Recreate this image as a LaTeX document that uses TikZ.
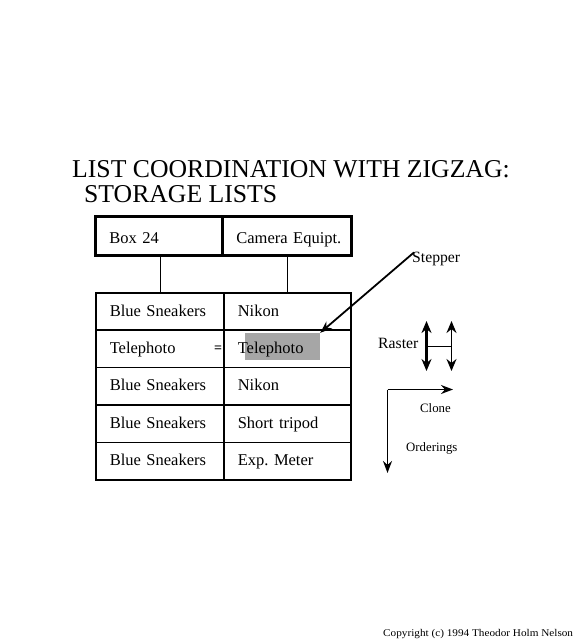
\documentclass[tikz,border=0pt]{standalone}
\usepackage{fontspec}
\setmainfont{Liberation Serif}
\usetikzlibrary{arrows.meta}
\frenchspacing
\begin{document}
\begin{tikzpicture}[x=1pt,y=-1pt,
  titletext/.style={anchor=base west, inner sep=0pt, font=\fontsize{25.7}{28}\selectfont},
  topcell/.style={draw, line width=2.8pt, minimum height=39pt, inner xsep=14pt, inner ysep=0pt,
    align=left, anchor=north west, font=\fontsize{16.5}{18}\selectfont, text height=16pt, text depth=1pt},
  cell/.style={draw, line width=1.6pt, minimum height=37.4pt, inner xsep=14pt, inner ysep=0pt,
    align=left, anchor=north west, font=\fontsize{16.5}{18}\selectfont, text height=12pt, text depth=3pt},
  lbl/.style={anchor=base west, inner sep=0pt, font=\fontsize{15.7}{18}\selectfont},
  smalllbl/.style={anchor=base west, inner sep=0pt, font=\fontsize{12.8}{14}\selectfont},
  conn/.style={line width=1.8pt},
  arr/.style={line width=1.8pt, -{Stealth[length=12pt,width=9pt]}},
  darr/.style={line width=2.4pt, {Stealth[length=12pt,width=10pt]}-{Stealth[length=12pt,width=10pt]}}
]
\useasboundingbox (0,0) rectangle (580,640);

% title
\node[titletext] (t1) at (72,177) {LIST COORDINATION WITH ZIGZAG:};
\node[titletext] (t2) at (84,202) {STORAGE LISTS};

% shaded cursor cell
\node[fill=black!35, minimum width=75pt, minimum height=27pt, inner sep=0pt] (shade) at (282.5,346.5) {};

% top box
\node[topcell, text width=99pt] (topL) at (94,215) {Box 24};
\node[topcell, text width=101pt] (topR) at (221,215) {\mbox{Camera Equipt.}};

% list table
\node[cell, text width=100pt] (r1L) at (95,292) {Blue Sneakers};
\node[cell, text width=99pt]  (r1R) at (223,292) {Nikon};
\node[cell, text width=100pt] (r2L) at (95,329.4) {Telephoto};
\node[cell, text width=99pt]  (r2R) at (223,329.4) {Telephoto};
\node[cell, text width=100pt] (r3L) at (95,366.8) {Blue Sneakers};
\node[cell, text width=99pt]  (r3R) at (223,366.8) {Nikon};
\node[cell, text width=100pt] (r4L) at (95,404.2) {Blue Sneakers};
\node[cell, text width=99pt]  (r4R) at (223,404.2) {Short tripod};
\node[cell, text width=100pt] (r5L) at (95,441.6) {Blue Sneakers};
\node[cell, text width=99pt]  (r5R) at (223,441.6) {Exp. Meter};

\node[inner sep=0pt, font=\fontsize{14}{14}\bfseries] (eq) at (218,349.5) {=};

% connectors top box -> list
\draw[conn] ([xshift=1.5pt]topL.south) -- ([xshift=1.5pt]topL.south |- r1L.north);
\draw[conn] ([xshift=0.5pt]topR.south) -- ([xshift=0.5pt]topR.south |- r1R.north);

% stepper
\node[lbl] (stepper) at (412,262) {Stepper};
\draw[arr] ([xshift=2pt,yshift=-1pt]stepper.north west) -- (shade.north east);

% raster
\node[lbl] (raster) at (378,348) {Raster};
\coordinate (ra1) at (426.5,321);
\coordinate (ra2) at (426.5,371);
\coordinate (rb1) at (451.5,321);
\coordinate (rb2) at (451.5,371);
\coordinate (rm1) at (426.5,346.5);
\coordinate (rm2) at (451.5,346.5);
\draw[darr] (ra1) -- (ra2);
\draw[darr, line width=1.6pt] (rb1) -- (rb2);
\draw[conn] (rm1) -- (rm2);

% clone / orderings
\coordinate (corner) at (387.5,389.5);
\coordinate (cloneend) at (453,389.5);
\coordinate (ordend) at (387.5,473);
\draw[arr] (corner) -- (cloneend);
\draw[arr] (corner) -- (ordend);
\node[smalllbl] (clone) at (420,412) {Clone};
\node[smalllbl] (orderings) at (406,451) {Orderings};

% copyright
\node[anchor=base west, inner sep=0pt, font=\fontsize{10.3}{11}\selectfont] (copy) at (383,636) {\scalebox{1.09}[1]{Copyright (c) 1994 Theodor Holm Nelson}};
\end{tikzpicture}
\end{document}
